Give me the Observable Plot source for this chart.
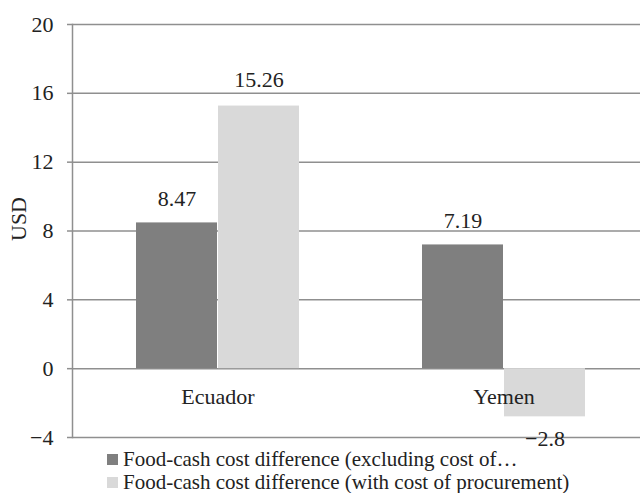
<!DOCTYPE html>
<html>
<head>
<meta charset="utf-8">
<script src="https://cdn.jsdelivr.net/npm/d3@7"></script>
<script src="https://cdn.jsdelivr.net/npm/@observablehq/plot@0.6"></script>
<style>
  html, body { margin: 0; padding: 0; background: #fff; }
  #chart { width: 640px; }
  .legend { font-family: "Liberation Serif", serif; font-size: 21px; color: #222; padding-left: 107px; margin-top: -16px; position: relative; }
  .legend .row { display: flex; align-items: center; height: 23px; line-height: 23px; white-space: nowrap; }
  .legend .sw { width: 11px; height: 11px; margin-right: 5px; flex: none; }
</style>
</head>
<body>
<div id="chart"></div>
<script>
const countries = ["Ecuador", "Yemen"];
const seriesNames = [
  "Food-cash cost difference (excluding cost of procurement)",
  "Food-cash cost difference (with cost of procurement)"
];
const legendLabels = [
  "Food-cash cost difference (excluding cost of…",
  "Food-cash cost difference (with cost of procurement)"
];
const valuesExcluding = [8.47, 7.19];
const valuesWith = [15.26, -2.8];
const yTicks = [-4, 0, 4, 8, 12, 16, 20];
const seriesColors = ["#7f7f7f", "#d9d9d9"];

const rowsExcl = countries.map((c, i) => ({country: c, series: seriesNames[0], value: valuesExcluding[i]}));
const rowsWith = countries.map((c, i) => ({country: c, series: seriesNames[1], value: valuesWith[i]}));
const fmt = v => (v < 0 ? "\u2212" : "") + Math.abs(v);

const half = 82;
const plot = Plot.plot({
  width: 640,
  height: 464,
  marginTop: 24,
  marginBottom: 27,
  marginLeft: 72,
  marginRight: 0,
  style: {fontFamily: "Liberation Serif, serif", fontSize: "22px", color: "#222", background: "#fff", overflow: "visible"},
  x: {domain: countries, paddingInner: 0.4286, paddingOuter: 0.204, align: 0.54, axis: null},
  y: {domain: [-4, 20], axis: null},
  color: {domain: seriesNames, range: seriesColors},
  marks: [
    Plot.ruleY(yTicks, {stroke: "#8f8f8f", strokeWidth: 1.5}),
    Plot.frame({anchor: "left", stroke: "#8f8f8f", strokeWidth: 1.5}),
    Plot.axisY({ticks: yTicks, tickSize: 5, tickPadding: 14, stroke: "#8f8f8f", strokeWidth: 1.5, tickFormat: fmt, fontSize: 22, label: null}),
    Plot.barY(rowsExcl, {x: "country", y: "value", fill: "series", insetRight: half}),
    Plot.barY(rowsWith, {x: "country", y: "value", fill: "series", insetLeft: half}),
    Plot.text(countries, {x: d => d, y: d => 0, dy: 28, text: d => d, fill: "#222"}),
    Plot.text(rowsExcl, {x: "country", y: "value", text: d => fmt(d.value), dx: -half / 2, dy: -24, fill: "#222"}),
    Plot.text(rowsWith, {filter: d => d.value >= 0, x: "country", y: "value", text: d => fmt(d.value), dx: half / 2, dy: -26, fill: "#222"}),
    Plot.text(rowsWith, {filter: d => d.value < 0, x: "country", y: "value", text: d => fmt(d.value), dx: half / 2, dy: 22, fill: "#222"}),
    Plot.text(["USD"], {frameAnchor: "left", text: d => d, dx: -54, dy: 10, rotate: -90, fill: "#222"})
  ]
});

const chart = document.getElementById("chart");
chart.appendChild(plot);

const legend = document.createElement("div");
legend.className = "legend";
legendLabels.forEach((lab, i) => {
  const row = document.createElement("div");
  row.className = "row";
  const sw = document.createElement("span");
  sw.className = "sw";
  sw.style.background = seriesColors[i];
  const t = document.createElement("span");
  t.textContent = lab;
  row.appendChild(sw);
  row.appendChild(t);
  legend.appendChild(row);
});
chart.appendChild(legend);
</script>
</body>
</html>
